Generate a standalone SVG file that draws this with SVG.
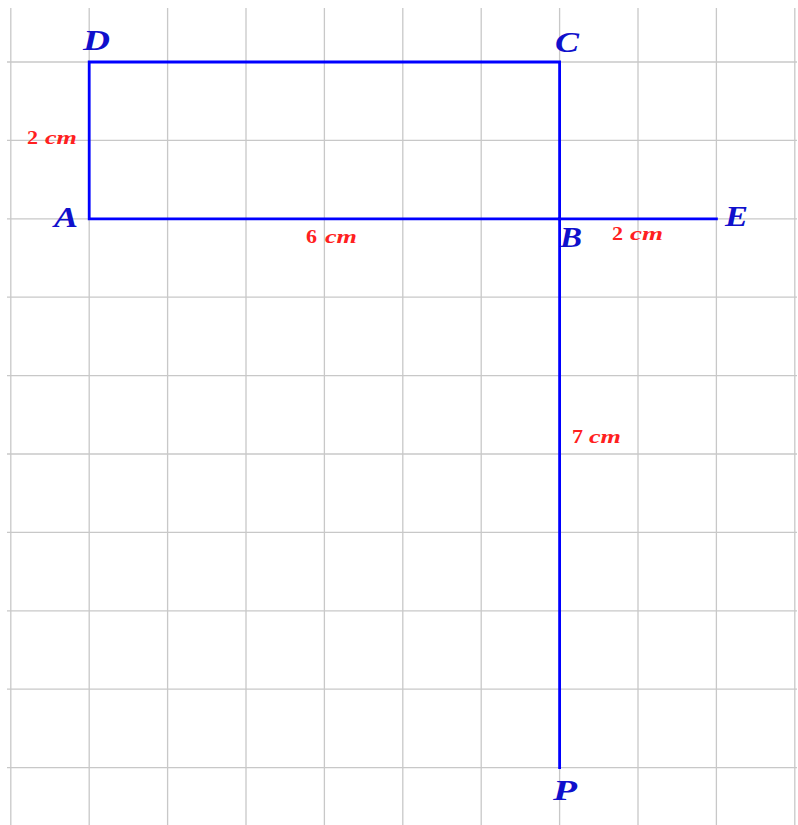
<svg xmlns="http://www.w3.org/2000/svg" width="798" height="825" viewBox="0 0 798 825">
<style>
.grid line{stroke:#c8c8c8;stroke-width:1.3}
.seg{stroke:#0000ff;stroke-width:2.8;fill:none;stroke-linecap:square}
.pt{font-family:"Liberation Serif",serif;font-weight:bold;font-style:italic;font-size:29px;fill:#1010cc}
.num{font-family:"Liberation Serif",serif;font-weight:bold;font-size:19px;fill:#ff2020}
.unit{font-family:"Liberation Serif",serif;font-weight:bold;font-style:italic;font-size:19px;fill:#ff2020}
</style>
<rect width="798" height="825" fill="#ffffff"/>
<g class="grid" id="grid">
<line x1="10.8" y1="8" x2="10.8" y2="825"/>
<line x1="89.2" y1="8" x2="89.2" y2="825"/>
<line x1="167.6" y1="8" x2="167.6" y2="825"/>
<line x1="246" y1="8" x2="246" y2="825"/>
<line x1="324.4" y1="8" x2="324.4" y2="825"/>
<line x1="402.8" y1="8" x2="402.8" y2="825"/>
<line x1="481.2" y1="8" x2="481.2" y2="825"/>
<line x1="559.6" y1="8" x2="559.6" y2="825"/>
<line x1="638" y1="8" x2="638" y2="825"/>
<line x1="716.4" y1="8" x2="716.4" y2="825"/>
<line x1="794.8" y1="8" x2="794.8" y2="825"/>
<line x1="7" y1="62" x2="797" y2="62"/>
<line x1="7" y1="140.4" x2="797" y2="140.4"/>
<line x1="7" y1="218.8" x2="797" y2="218.8"/>
<line x1="7" y1="297.2" x2="797" y2="297.2"/>
<line x1="7" y1="375.6" x2="797" y2="375.6"/>
<line x1="7" y1="454" x2="797" y2="454"/>
<line x1="7" y1="532.4" x2="797" y2="532.4"/>
<line x1="7" y1="610.8" x2="797" y2="610.8"/>
<line x1="7" y1="689.2" x2="797" y2="689.2"/>
<line x1="7" y1="767.6" x2="797" y2="767.6"/>
</g>
<g id="connectors">
<path class="seg" d="M89.2 218.8 L559.6 218.8 L559.6 62 L89.2 62 Z"/>
<line class="seg" x1="559.6" y1="218.8" x2="716.4" y2="218.8"/>
<line class="seg" x1="559.6" y1="218.8" x2="559.6" y2="767.6"/>
</g>
<g id="A"><text class="pt" x="54" y="227" textLength="24" lengthAdjust="spacingAndGlyphs">A</text></g>
<g id="B"><text class="pt" x="560" y="247" textLength="22" lengthAdjust="spacingAndGlyphs">B</text></g>
<g id="C"><text class="pt" x="555" y="52" textLength="24" lengthAdjust="spacingAndGlyphs">C</text></g>
<g id="D"><text class="pt" x="83" y="50" textLength="27" lengthAdjust="spacingAndGlyphs">D</text></g>
<g id="E"><text class="pt" x="725" y="226" textLength="23" lengthAdjust="spacingAndGlyphs">E</text></g>
<g id="P"><text class="pt" x="553" y="800" textLength="24" lengthAdjust="spacingAndGlyphs">P</text></g>
<g id="label-AD"><text class="num" x="27" y="144" textLength="11" lengthAdjust="spacingAndGlyphs">2</text><text class="unit" x="45" y="144" textLength="32" lengthAdjust="spacingAndGlyphs">cm</text></g>
<g id="label-AB"><text class="num" x="306" y="243" textLength="11" lengthAdjust="spacingAndGlyphs">6</text><text class="unit" x="325" y="243" textLength="32" lengthAdjust="spacingAndGlyphs">cm</text></g>
<g id="label-BE"><text class="num" x="612" y="240" textLength="11" lengthAdjust="spacingAndGlyphs">2</text><text class="unit" x="630" y="240" textLength="33" lengthAdjust="spacingAndGlyphs">cm</text></g>
<g id="label-BP"><text class="num" x="572" y="443" textLength="11" lengthAdjust="spacingAndGlyphs">7</text><text class="unit" x="589" y="443" textLength="32" lengthAdjust="spacingAndGlyphs">cm</text></g>
</svg>
